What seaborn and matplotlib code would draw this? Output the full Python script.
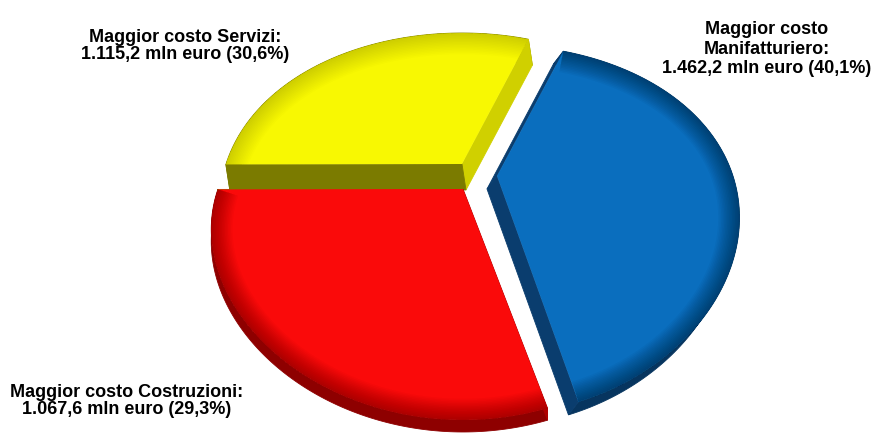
import numpy as np
import matplotlib
matplotlib.use("Agg")
import matplotlib.pyplot as plt
from matplotlib.patches import Polygon
import seaborn as sns

# Extra cost by sector, million euro
sectors = ["Servizi", "Costruzioni", "Manifatturiero"]
costs_mln = [1115.2, 1067.6, 1462.2]
labels = [
    "Maggior costo Servizi:\n1.115,2 mln euro (30,6%)",
    "Maggior costo Costruzioni:\n1.067,6 mln euro (29,3%)",
    "Maggior costo\nManifatturiero:\n1.462,2 mln euro (40,1%)",
]
colors = ["#F8F802", "#FA0A0A", "#0A6EBE"]

sns.set_theme(style="white")
plt.rcParams["font.family"] = ["Liberation Sans", "DejaVu Sans"]

W, H = 874, 439
fig = plt.figure(figsize=(W / 100, H / 100), dpi=100)

# Angles of each slice come from matplotlib's own pie layout
tmp = fig.add_axes([0, 0, 1, 1])
wedges, _ = tmp.pie(costs_mln, startangle=70, counterclock=True)
slices = [(w.theta1, w.theta2) for w in wedges]
fig.delaxes(tmp)

ax = fig.add_axes([0, 0, 1, 1])
ax.set_xlim(0, W)
ax.set_ylim(H, 0)
ax.axis("off")

# Perspective of the tilted disc, in pixels
KX, KY = 0.23, 0.29
style = {
    # centre, radii, extrusion vector, cut-face colours, rim colour, bevel strength
    0: dict(c=(462, 165), A=236, B=169, d=(4, 26), start="#D0D000", end="#7B7B00",
            rim="#858500", bevel=0.012),
    1: dict(c=(463, 190), A=245, B=164, d=(0, 12), start="#7B7B00", end="#B00000",
            rim="#8E0000", bevel=0.022),
    2: dict(c=(497, 177), A=236, B=169, d=(-10, 13), start="#0A3D6E", end="#0A3D6E",
            rim="#07355F", bevel=0.03),
}


def project(u, v, s):
    cx, cy = s["c"]
    return cx + s["A"] * u / (1 + KX * v), cy - s["B"] * v / (1 + KY * v)


def face(t1, t2, s, n=160):
    th = np.radians(np.linspace(t1, t2, n))
    pts = [project(0, 0, s)] + [project(np.cos(t), np.sin(t), s) for t in th]
    return np.array(pts)


def extrude(pts, d, color, zorder):
    pts = np.asarray(pts)
    side = np.vstack([pts, pts[::-1] + np.array(d)])
    ax.add_patch(Polygon(side, closed=True, fc=color, ec=color, lw=0.6, zorder=zorder))


for i in [0, 2, 1]:
    s = style[i]
    t1, t2 = slices[i]
    top = face(t1, t2, s)
    z = {0: 1, 2: 3, 1: 5}[i]
    d = s["d"]
    extrude(top[1:], d, s["rim"], z)
    extrude(top[[0, 1]], d, s["start"], z + 0.1)
    extrude(top[[0, -1]], d, s["end"], z + 0.1)
    poly = Polygon(top, closed=True, fc=colors[i], ec="none", zorder=z + 0.5)
    ax.add_patch(poly)
    # soft darkening towards the outer rim
    arc = top[1:]
    for j in range(14):
        ln, = ax.plot(arc[:, 0], arc[:, 1], color="black", lw=2 + 2.2 * j,
                      alpha=s["bevel"], solid_capstyle="butt", zorder=z + 0.6)
        ln.set_clip_path(poly)

font = dict(fontsize=13, fontweight="bold", color="black", ha="center", va="center")
ax.text(185, 46, labels[0], linespacing=1.05, **font)
ax.text(127, 401, labels[1], linespacing=0.95, **font)
ax.text(767, 49, labels[2], linespacing=1.2, **font)

fig.savefig("out.png", dpi=100)
